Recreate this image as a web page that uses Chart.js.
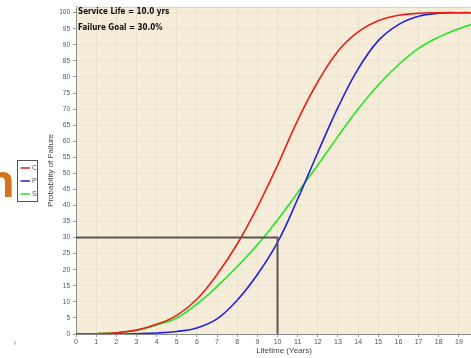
<!DOCTYPE html>
<html>
<head>
<meta charset="utf-8">
<script src="https://cdn.jsdelivr.net/npm/chart.js@4.4.0/dist/chart.umd.min.js"></script>
<style>
    html, body { margin: 0; padding: 0; background: #fff; }
    #wrap { position: relative; width: 471px; height: 358px; overflow: hidden; }
    #myChart { position: absolute; left: 0; top: 0; }
    #stray { position: absolute; left: -14px; top: 150px; font: bold 44px "Open Sans", sans-serif; color: #d2741f; }
</style>
</head>
<body>
<div id="wrap">
    <canvas id="myChart" width="471" height="358"></canvas>
    <div id="stray">n</div>
</div>
<script>
"use strict";

let years = [0, 1, 2, 3, 4, 5, 6, 7, 8, 9, 10, 11, 12, 13, 14, 15, 16, 17, 18, 19, 19.6];
let seriesC = [0, 0.1, 0.4, 1.2, 3, 5.8, 10.8, 18.5, 28, 39.5, 52.5, 66.5, 78.5, 88, 94, 97.5, 99.2, 99.8, 100, 100, 100];
let seriesP = [0, 0, 0, 0.1, 0.3, 0.8, 1.9, 4.7, 10.5, 18.5, 28.5, 42, 56.5, 70.5, 82.5, 91.3, 96.3, 98.9, 99.8, 100, 100];
let seriesS = [0, 0.1, 0.4, 1.1, 2.8, 5, 9.3, 14.8, 21, 27.8, 35.5, 44, 52.6, 61.5, 70, 77.5, 83.8, 88.9, 92.4, 95, 96.3];
let seriesNames = ["C", "P", "S"];
let seriesColors = ["#e8201c", "#2222dd", "#22e622"];
let serviceLife = 10.0;
let failureGoal = 30.0;
let xTicks = [0, 1, 2, 3, 4, 5, 6, 7, 8, 9, 10, 11, 12, 13, 14, 15, 16, 17, 18, 19];
let yTicks = [0, 5, 10, 15, 20, 25, 30, 35, 40, 45, 50, 55, 60, 65, 70, 75, 80, 85, 90, 95, 100];

function points(ys) {
    let out = [];
    for (let i = 0; i < years.length; i++) {
        out.push({ x: years[i], y: ys[i] });
    }
    return out;
}

let allSeries = [seriesC, seriesP, seriesS];
let datasets = [];
datasets.push({
    label: "goal",
    data: [{ x: 0, y: failureGoal }, { x: serviceLife, y: failureGoal }, { x: serviceLife, y: 0 }],
    borderColor: "#5a5652",
    borderWidth: 2,
    pointRadius: 0,
    tension: 0
});
for (let i = 0; i < allSeries.length; i++) {
    datasets.push({
        label: seriesNames[i],
        data: points(allSeries[i]),
        borderColor: seriesColors[i],
        borderWidth: 1.6,
        pointRadius: 0,
        tension: 0.4
    });
}

let extras = {
    id: "extras",
    beforeDraw: function (c) {
        let a = c.chartArea, ctx = c.ctx;
        ctx.save();
        ctx.fillStyle = "#f6ecda";
        ctx.fillRect(a.left, a.top, a.right - a.left, a.bottom - a.top);
        ctx.restore();
    },
    afterDraw: function (c) {
        let a = c.chartArea, ctx = c.ctx;
        ctx.save();
        // top border
        ctx.strokeStyle = "#d8d2c6";
        ctx.lineWidth = 1;
        ctx.beginPath();
        ctx.moveTo(a.left, a.top + 0.5);
        ctx.lineTo(a.right, a.top + 0.5);
        ctx.stroke();

        // annotations
        ctx.fillStyle = "#111";
        ctx.font = "bold 8px 'Liberation Sans Narrow', 'DejaVu Sans Condensed', sans-serif";
        ctx.textBaseline = "middle";
        ctx.textAlign = "left";
        ctx.fillText("Service Life = " + serviceLife.toFixed(1) + " yrs", a.left + 2, 12);
        ctx.fillText("Failure Goal = " + failureGoal.toFixed(1) + "%", a.left + 2, 28);

        // axis titles
        ctx.fillStyle = "#444";
        ctx.font = "8px 'Liberation Sans', sans-serif";
        ctx.textAlign = "center";
        ctx.fillText("Lifetime (Years)", 284, 351);
        ctx.translate(51, (a.top + a.bottom) / 2);
        ctx.rotate(-Math.PI / 2);
        ctx.fillText("Probability of Failure", 0, 0);
        ctx.setTransform(1, 0, 0, 1, 0, 0);

        // legend box
        ctx.strokeStyle = "#555";
        ctx.strokeRect(17.5, 160.5, 20, 41);
        ctx.font = "7px 'Liberation Sans', sans-serif";
        ctx.textAlign = "left";
        for (let i = 0; i < seriesNames.length; i++) {
            let y = 168 + i * 13;
            ctx.strokeStyle = seriesColors[i];
            ctx.lineWidth = 1.5;
            ctx.beginPath();
            ctx.moveTo(20.5, y);
            ctx.lineTo(30, y);
            ctx.stroke();
            ctx.fillStyle = "#555";
            ctx.fillText(seriesNames[i], 32, y);
        }
        ctx.fillStyle = "#777";
        ctx.fillText("ı", 14, 343);
        ctx.restore();
    }
};

let chart = new Chart(document.getElementById("myChart"), {
    type: "line",
    data: { datasets: datasets },
    options: {
        responsive: false,
        animation: false,
        layout: { padding: { top: 6, left: 0, right: 0, bottom: 0 } },
        plugins: { legend: { display: false }, tooltip: { enabled: false } },
        scales: {
            x: {
                type: "linear",
                min: 0,
                max: 19.6,
                afterBuildTicks: function (s) { s.ticks = xTicks.map(function (v) { return { value: v }; }); },
                afterFit: function (s) { s.height = 24; },
                ticks: { color: "#555", font: { size: 7, family: "Liberation Sans" }, padding: 1, maxRotation: 0, autoSkip: false },
                grid: { color: "#ebe1cd", tickColor: "#999", tickLength: 3 },
                border: { color: "#8a8a8a", width: 1 }
            },
            y: {
                min: 0,
                max: 101.8,
                afterBuildTicks: function (s) { s.ticks = yTicks.map(function (v) { return { value: v }; }); },
                afterFit: function (s) { s.width = 76; },
                ticks: { color: "#555", font: { size: 6.5, family: "Liberation Sans" }, padding: 3, autoSkip: false },
                grid: { color: "#ebe1cd", tickColor: "#999", tickLength: 3 },
                border: { color: "#8a8a8a", width: 1 }
            }
        }
    },
    plugins: [extras]
});
</script>
</body>
</html>
